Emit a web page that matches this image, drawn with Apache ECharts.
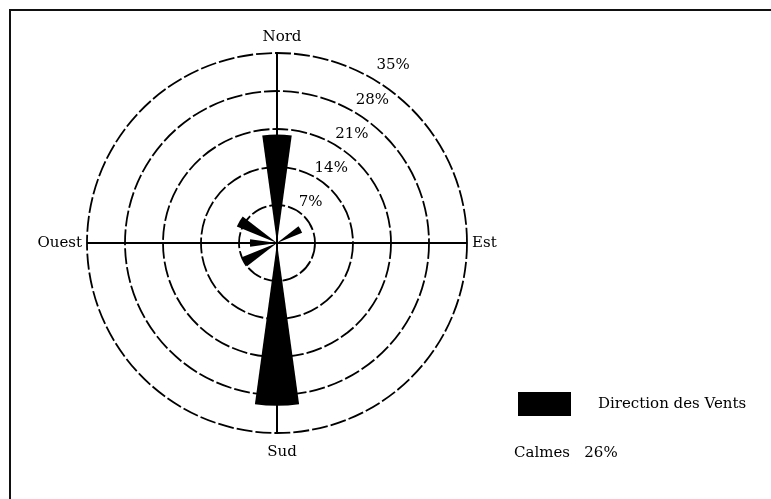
<!DOCTYPE html>
<html>
<head>
<meta charset="utf-8">
<script src="https://cdn.jsdelivr.net/npm/echarts@6/dist/echarts.min.js"></script>
<style>
  body { margin: 0; background: #fff; }
  #rose { width: 771px; height: 499px; }
</style>
</head>
<body>
<div id="rose"></div>
<script>
// 12 secteurs de 30 degres, en partant du Nord
var directions = ["N", "N30", "N60", "E", "E120", "E150", "S", "S210", "S240", "W", "W300", "W330"];
var frequences = [20, 0, 5, 0, 0, 0, 30, 0, 7, 5, 8, 0];
var pointsCardinaux = ["Nord", "Est", "Sud", "Ouest"];
var calmes = 26;
var nomSerie = "Direction des Vents";

var police = "DejaVu Serif";
var centre = [277, 243];

var chart = echarts.init(document.getElementById("rose"));
var option = {
  animation: false,
  backgroundColor: "#fff",
  title: {
    text: "Calmes   " + calmes + "%",
    left: 514,
    top: 446,
    padding: 0,
    textStyle: { fontSize: 15, fontWeight: "normal", color: "#000", fontFamily: police },
  },
  legend: {
    data: [nomSerie],
    left: 518,
    top: 392,
    padding: 0,
    icon: "rect",
    itemWidth: 53,
    itemHeight: 24,
    textStyle: { fontSize: 15, color: "#000", fontFamily: police, padding: [2, 0, 0, 22] },
  },
  graphic: [
    {
      type: "rect",
      shape: { x: 10, y: 10, width: 800, height: 560 },
      style: { fill: null, stroke: "#111", lineWidth: 2 },
      silent: true,
    },
  ],
  polar: [
    { center: centre, radius: 190 },
    { center: centre, radius: 190 },
    { center: centre, radius: [12, 212] }, // juste pour les etiquettes des cercles
  ],
  angleAxis: [
    {
      polarIndex: 0,
      type: "category",
      data: directions,
      startAngle: 105,
      clockwise: true,
      axisLine: { show: false },
      axisTick: { show: false },
      axisLabel: { show: false },
      splitLine: { show: false },
    },
    {
      polarIndex: 1,
      type: "value",
      min: 0,
      max: 360,
      interval: 90,
      startAngle: 90,
      clockwise: true,
      axisLine: { show: false },
      axisTick: { show: false },
      axisLabel: {
        margin: 5,
        color: "#000",
        fontSize: 15,
        fontFamily: police,
        formatter: function (v) {
          if (v >= 360) return "";
          var nom = pointsCardinaux[v / 90];
          return "{p" + v + "|" + nom + "}";
        },
        rich: {
          p0: { fontSize: 15, fontFamily: police, padding: [0, 0, 3, 10] },
          p90: { fontSize: 15, fontFamily: police, padding: [0, 0, 0, 0] },
          p180: { fontSize: 15, fontFamily: police, padding: [7, 0, 0, 10] },
          p270: { fontSize: 15, fontFamily: police, padding: [0, 0, 0, 0] },
        },
      },
      splitLine: { show: true, lineStyle: { color: "#000", width: 2 } },
    },
    {
      polarIndex: 2,
      type: "value",
      startAngle: 59,
      show: false,
    },
  ],
  radiusAxis: [
    {
      polarIndex: 0,
      type: "value",
      min: 0,
      max: 35,
      interval: 7,
      axisLine: { show: false },
      axisTick: { show: false },
      axisLabel: { show: false },
      splitLine: {
        show: true,
        lineStyle: { color: "#000", width: 1.8, type: [16, 3] },
      },
    },
    {
      polarIndex: 1,
      type: "value",
      show: false,
    },
    {
      polarIndex: 2,
      type: "value",
      min: 0,
      max: 35,
      interval: 7,
      axisLine: { show: false },
      axisTick: { show: false },
      splitLine: { show: false },
      axisLabel: {
        margin: -8,
        align: "center",
        verticalAlign: "middle",
        showMinLabel: false,
        color: "#000",
        fontSize: 15,
        fontFamily: police,
        formatter: "{value}%",
      },
    },
  ],
  series: [
    {
      name: nomSerie,
      type: "bar",
      coordinateSystem: "polar",
      polarIndex: 0,
      data: frequences,
      barWidth: "52%",
      itemStyle: { color: "#000" },
      z: 5,
    },
  ],
};
chart.setOption(option);
</script>
</body>
</html>
